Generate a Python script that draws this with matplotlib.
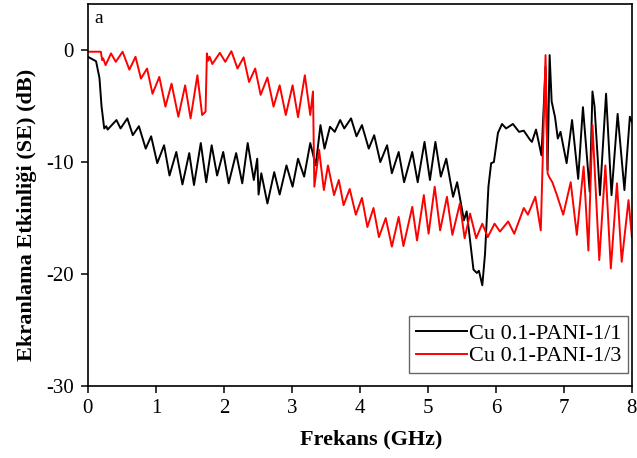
import matplotlib
matplotlib.use("Agg")
import matplotlib.pyplot as plt

plt.rcParams['font.family'] = ['Liberation Serif', 'DejaVu Serif']
plt.rcParams['axes.unicode_minus'] = False

# Cu 0.1-PANI-1/1 (black), picked peaks/troughs
freq_11 = [0.00, 0.12, 0.17, 0.20, 0.24, 0.27, 0.29, 0.42, 0.48, 0.58, 0.66,
           0.75, 0.85, 0.93, 1.02, 1.12, 1.20, 1.30, 1.39, 1.49, 1.56, 1.66,
           1.74, 1.82, 1.90, 1.99, 2.07, 2.18, 2.27, 2.35, 2.44, 2.49, 2.51,
           2.55, 2.64, 2.74, 2.82, 2.92, 3.01, 3.09, 3.18, 3.27, 3.35, 3.42,
           3.48, 3.56, 3.63, 3.71, 3.77, 3.87, 3.95, 4.03, 4.13, 4.21, 4.30,
           4.40, 4.47, 4.57, 4.65, 4.77, 4.85, 4.95, 5.03, 5.11, 5.19, 5.27,
           5.37, 5.43, 5.53, 5.57, 5.62, 5.67, 5.72, 5.75, 5.80, 5.84, 5.89,
           5.93, 5.97, 6.03, 6.09, 6.15, 6.25, 6.34, 6.41, 6.50, 6.53, 6.59,
           6.67, 6.73, 6.76, 6.79, 6.82, 6.87, 6.91, 6.95, 7.04, 7.12, 7.21,
           7.28, 7.38, 7.42, 7.45, 7.53, 7.62, 7.70, 7.79, 7.89, 7.97, 8.00]
se_11 = [-0.6, -1.0, -2.5, -5.0, -7.0, -6.8, -7.1, -6.25, -7.0, -6.1, -7.6,
         -6.8, -8.8, -7.7, -10.1, -8.5, -11.2, -9.1, -12.0, -9.2, -12.05, -8.3,
         -11.8, -8.5, -11.2, -9.1, -11.9, -9.2, -11.9, -8.3, -11.6, -9.7, -12.9,
         -11.0, -13.7, -10.9, -12.9, -10.3, -12.2, -9.7, -11.3, -8.3, -10.3, -6.7,
         -8.8, -6.85, -7.3, -6.25, -7.0, -6.1, -7.7, -6.7, -8.8, -7.6, -10.0,
         -8.5, -11.0, -9.1, -11.8, -9.1, -11.8, -8.2, -11.6, -8.2, -11.3, -9.7,
         -13.1, -11.8, -15.2, -14.4, -17.0, -19.6, -19.9, -19.7, -21.0, -18.2, -12.2,
         -10.1, -10.0, -7.4, -6.6, -7.0, -6.6, -7.3, -7.2, -8.0, -8.2, -7.1,
         -9.4, -1.5, -10.7, -0.45, -4.6, -6.0, -7.9, -7.3, -10.1, -6.25, -11.5,
         -5.1, -12.65, -3.7, -5.0, -12.95, -3.9, -12.95, -5.7, -12.5, -5.95, -6.4]

# Cu 0.1-PANI-1/3 (red)
freq_13 = [0.00, 0.19, 0.21, 0.225, 0.26, 0.34, 0.41, 0.51, 0.61, 0.70, 0.78,
           0.87, 0.95, 1.05, 1.14, 1.23, 1.33, 1.43, 1.51, 1.61, 1.68, 1.73,
           1.75, 1.77, 1.79, 1.83, 1.94, 2.02, 2.11, 2.20, 2.29, 2.37, 2.46,
           2.54, 2.64, 2.73, 2.82, 2.91, 3.01, 3.09, 3.19, 3.27, 3.31, 3.33,
           3.40, 3.47, 3.53, 3.62, 3.69, 3.76, 3.85, 3.94, 4.03, 4.11, 4.20,
           4.28, 4.38, 4.47, 4.57, 4.64, 4.77, 4.84, 4.94, 5.01, 5.10, 5.18,
           5.28, 5.36, 5.47, 5.54, 5.62, 5.71, 5.80, 5.88, 5.98, 6.06, 6.18,
           6.27, 6.41, 6.47, 6.58, 6.66, 6.73, 6.76, 6.79, 6.83, 6.90, 6.99,
           7.10, 7.19, 7.29, 7.36, 7.42, 7.52, 7.61, 7.69, 7.78, 7.85, 7.95,
           8.00]
se_13 = [-0.15, -0.15, -0.9, -0.75, -1.35, -0.3, -1.05, -0.15, -1.75, -0.6, -2.55,
         -1.65, -3.9, -2.4, -5.05, -3.0, -5.95, -3.15, -6.1, -2.25, -5.8, -5.5,
         -0.3, -0.95, -0.6, -1.25, -0.25, -1.05, -0.1, -1.65, -0.65, -2.85, -1.65,
         -4.0, -2.45, -5.05, -3.15, -5.8, -3.15, -6.0, -2.25, -5.8, -3.7, -12.2,
         -8.9, -12.5, -10.3, -12.95, -11.6, -13.85, -12.4, -14.7, -13.2, -15.8, -14.1,
         -16.7, -15.0, -17.55, -14.9, -17.5, -14.0, -17.0, -12.95, -16.4, -12.2, -16.1,
         -13.1, -16.5, -13.7, -16.8, -14.6, -16.8, -15.5, -16.7, -15.5, -16.2, -15.3,
         -16.4, -14.1, -14.7, -13.1, -16.1, -0.45, -11.0, -11.4, -11.8, -13.0, -14.7,
         -11.8, -16.5, -10.4, -17.9, -6.7, -18.75, -10.3, -19.5, -11.9, -18.9, -13.4,
         -16.7]

fig = plt.figure(figsize=(6.37, 4.58), dpi=100)
ax = fig.add_axes([0.138, 0.157, 0.854, 0.834])

ax.plot(freq_11, se_11, color='black', lw=1.4, solid_joinstyle='round',
        label='Cu 0.1-PANI-1/1')
ax.plot(freq_13, se_13, color='red', lw=1.4, solid_joinstyle='round',
        label='Cu 0.1-PANI-1/3')

ax.set_xlim(0, 8)
ax.set_ylim(-30, 4.1)
ax.set_xticks(range(0, 9))
ax.set_yticks([-30, -20, -10, 0])
ax.tick_params(axis='both', direction='out', length=5, width=1.1, labelsize=15)
ax.tick_params(axis='x', pad=4)
ax.tick_params(axis='y', pad=5)
for s in ax.spines.values():
    s.set_linewidth(1.2)

ax.set_xlabel('Frekans (GHz)', fontsize=16, fontweight='bold')
ax.set_ylabel('Ekranlama Etkinliği (SE) (dB)', fontsize=16, fontweight='bold')
ax.xaxis.set_label_coords(0.52, -0.113)
ax.yaxis.set_label_coords(-0.094, 0.448)
ax.text(0.012, 0.985, 'a', transform=ax.transAxes, fontsize=14, va='top')

leg = ax.legend(loc='lower right', bbox_to_anchor=(0.993, 0.034), borderaxespad=0,
                fontsize=16, fancybox=False, framealpha=1, edgecolor='#666666',
                handlelength=2.3, handletextpad=0.1, labelspacing=0.1,
                borderpad=0.3)
leg.get_frame().set_linewidth(1.0)

fig.savefig('out.png', dpi=100)
